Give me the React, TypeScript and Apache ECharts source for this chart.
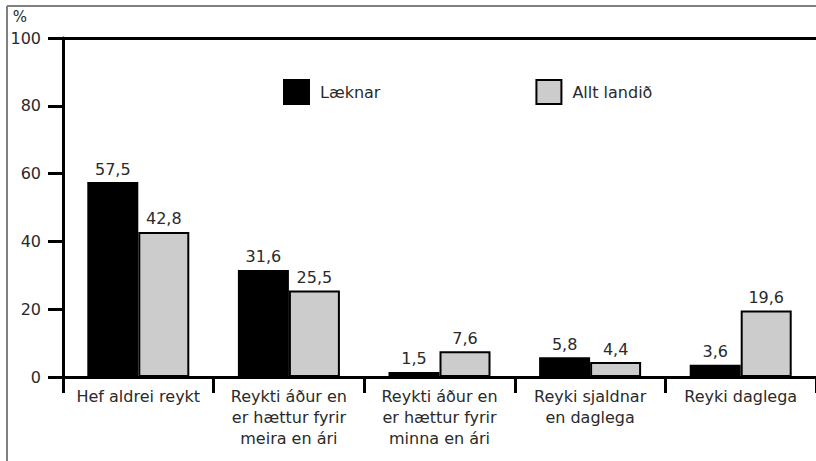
import React, { useEffect, useRef } from "react";
import * as echarts from "echarts";

const categories = [
  "Hef aldrei reykt",
  "Reykti áður en\ner hættur fyrir\nmeira en ári",
  "Reykti áður en\ner hættur fyrir\nminna en ári",
  "Reyki sjaldnar\nen daglega",
  "Reyki daglega",
];
const laeknar = [57.5, 31.6, 1.5, 5.8, 3.6];
const alltLandid = [42.8, 25.5, 7.6, 4.4, 19.6];
const yTicks = { min: 0, max: 100, interval: 20 };

const FONT = "DejaVu Sans";
const TXT = "#2a2a2a";

export default function App() {
  const ref = useRef<HTMLDivElement>(null);
  useEffect(() => {
    document.body.style.margin = "0";
    const chart = echarts.init(ref.current!, null, { renderer: "svg" });
    const fmt = (p: any) => String(p.value).replace(".", ",");
    chart.setOption({
      animation: false,
      textStyle: { fontFamily: FONT },
      grid: { left: 63, right: 0, top: 38, bottom: 84, containLabel: false },
      legend: {
        left: 278,
        top: 74,
        itemWidth: 25,
        itemHeight: 24,
        itemGap: 155,
        icon: "rect",
        textStyle: { fontFamily: FONT, fontSize: 16, color: TXT, padding: [0, 0, 0, 6] },
        data: ["Læknar", "Allt landið"],
      },
      xAxis: [
        {
          type: "category",
          data: categories,
          boundaryGap: true,
          axisLine: { show: true, lineStyle: { color: "#000", width: 3 } },
          axisTick: { show: true, interval: 0, length: 16, inside: false, lineStyle: { color: "#000", width: 3 } },
          axisLabel: {
            interval: 0,
            margin: 9,
            fontFamily: FONT,
            fontSize: 16,
            lineHeight: 21,
            color: TXT,
            align: "center",
          },
        },
        {
          type: "category",
          data: categories,
          position: "top",
          axisLine: { show: true, lineStyle: { color: "#000", width: 3 } },
          axisTick: { show: false },
          axisLabel: { show: false },
        },
      ],
      yAxis: {
        type: "value",
        min: yTicks.min,
        max: yTicks.max,
        interval: yTicks.interval,
        name: "%",
        nameLocation: "end",
        nameGap: 14,
        nameTextStyle: {
          fontFamily: FONT,
          fontSize: 15,
          color: TXT,
          align: "right",
          verticalAlign: "bottom",
          padding: [0, 36, 0, 0],
        },
        axisLine: { show: true, lineStyle: { color: "#000", width: 3 } },
        axisTick: { show: true, length: 15, inside: false, lineStyle: { color: "#000", width: 3 } },
        axisLabel: { margin: 22, fontFamily: FONT, fontSize: 16, color: TXT },
        splitLine: { show: false },
      },
      graphic: [
        { type: "line", shape: { x1: 7, y1: 6, x2: 7, y2: 461 }, style: { stroke: "#808080", lineWidth: 2 } },
        { type: "line", shape: { x1: 7, y1: 6, x2: 816, y2: 6 }, style: { stroke: "#808080", lineWidth: 2 } },
      ],
      series: [
        {
          name: "Læknar",
          type: "bar",
          data: laeknar,
          barWidth: 51,
          barGap: "0%",
          itemStyle: { color: "#000000", borderColor: "#000000", borderWidth: 2 },
          label: { show: true, position: "top", distance: 5, formatter: fmt, fontFamily: FONT, fontSize: 16, color: TXT },
        },
        {
          name: "Allt landið",
          type: "bar",
          data: alltLandid,
          barWidth: 51,
          barGap: "0%",
          itemStyle: { color: "#cccccc", borderColor: "#000000", borderWidth: 2 },
          label: { show: true, position: "top", distance: 5, formatter: fmt, fontFamily: FONT, fontSize: 16, color: TXT },
        },
      ],
    });
    return () => chart.dispose();
  }, []);
  return <div ref={ref} style={{ width: 816, height: 461 }} />;
}
